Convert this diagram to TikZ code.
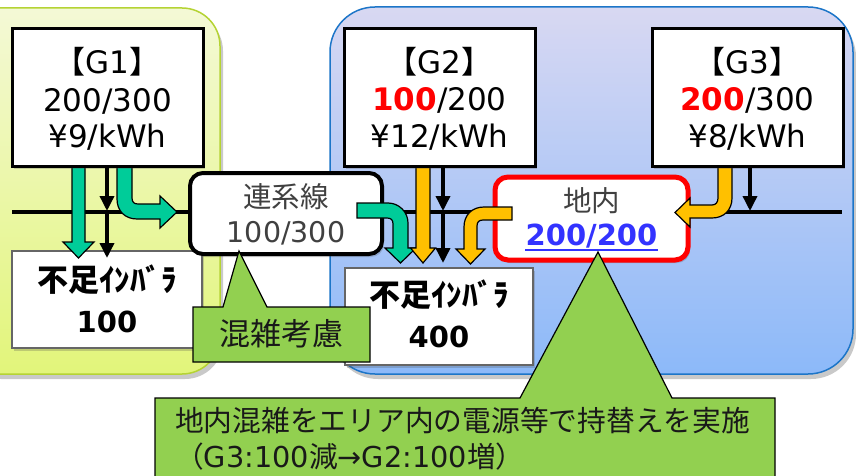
\documentclass[tikz,border=0pt]{standalone}
\usepackage{fontspec}
\setmainfont{DejaVu Sans}
\newfontfamily\cjk{Noto Sans CJK JP}
\usetikzlibrary{shadows,arrows.meta}
\definecolor{gA}{HTML}{00CC99}
\definecolor{oA}{HTML}{FFC000}
\definecolor{cg}{HTML}{92D050}
\definecolor{lgTop}{HTML}{F4F9D6}
\definecolor{lgBot}{HTML}{E2F57A}
\definecolor{lgBd}{HTML}{B5D334}
\definecolor{bTop}{HTML}{D8D8F2}
\definecolor{bBot}{HTML}{8CB9F9}
\definecolor{bBd}{HTML}{1C75C8}
\definecolor{dg}{HTML}{404040}
\definecolor{nb}{HTML}{3333FF}
\definecolor{rd}{HTML}{FF0000}
\begin{document}
\begin{tikzpicture}[x=1pt,y=-1pt,
  regshadow/.style={drop shadow={shadow xshift=3pt,shadow yshift=-5pt,opacity=0.3,fill=black!70}},
  boxshadow/.style={drop shadow={shadow xshift=2pt,shadow yshift=-3pt,opacity=0.25,fill=black!70}},
  gbox/.style={draw=black, line width=3pt, fill=white, inner sep=0pt,
    minimum width=191pt, minimum height=137pt, boxshadow},
  nbox/.style={draw=black!60, line width=1.5pt, fill=white, inner sep=0pt,
    minimum width=190pt, minimum height=97pt, boxshadow},
  rbox/.style={line width=4pt, fill=white, inner sep=0pt, rounded corners=13pt, boxshadow},
  tx/.style={inner sep=0pt, anchor=base},
  f31/.style={font=\fontsize{31}{36}\selectfont},
  f29/.style={font=\fontsize{29}{34}\selectfont},
  f28/.style={font=\fontsize{28.5}{34}\selectfont},
  blockG/.style={fill=gA, draw=black, line width=1.2pt, line join=miter},
  blockO/.style={fill=oA, draw=black, line width=1.2pt, line join=miter},
  blk/.style={line width=3.5pt, -{Triangle[width=14pt,length=15pt]}},
  callout/.style={fill=cg, draw=black, line width=1.2pt, line join=miter}
]
\useasboundingbox (0,0) rectangle (856,476);
\clip (0,0) rectangle (856,476);

% regions
\path[regshadow, top color=lgTop, bottom color=lgBot, draw=lgBd, line width=1.5pt,
  rounded corners=38pt] (-40,8) rectangle (220,374);
\path[regshadow, top color=bTop, bottom color=bBot, draw=bBd, line width=1.5pt,
  rounded corners=45pt] (330,7) rectangle (853,374);

% bus line
\coordinate (busL) at (12,212);
\coordinate (busR) at (842,212);
\draw[line width=4pt] (busL) -- (busR);

% shortage boxes
\node[nbox] (N1) at (107,299.5) {};
\node[nbox, minimum width=188pt] (N2) at (439,316.5) {};

% tie line and area boxes
\node[rbox, draw=black, minimum width=192pt, minimum height=81pt] (TL) at (286,213.5) {};
\node[rbox, draw=rd, line width=5pt, minimum width=193pt, minimum height=83pt] (AR) at (591.5,218.5) {};

% block arrows
\path[blockG] (72,166) -- (72,242) -- (63,242) -- (78.5,258) -- (94,242) -- (85,242) -- (85,166) -- cycle;
\path[blockG] (117,166) -- (117,199) .. controls (117,211) and (125,219) .. (137,219) -- (160,219)
  -- (160,228) -- (177,212) -- (160,196) -- (160,204) -- (138,204)
  .. controls (134,204) and (132,202) .. (132,198) -- (132,166) -- cycle;
\path[blockG] (357,203) -- (388,203) .. controls (399,203) and (408,212) .. (408,223) -- (408,248)
  -- (416,248) -- (400.5,263) -- (385,248) -- (393,248) -- (393,224)
  .. controls (393,220) and (391,218) .. (387,218) -- (357,218) -- cycle;
\path[blockO] (416,166) -- (416,248) -- (410.5,248) -- (423,263) -- (435.5,248) -- (430,248) -- (430,166) -- cycle;
\path[blockO] (512,207) -- (484,207) .. controls (472,207) and (464,215) .. (464,227) -- (464,249)
  -- (456,249) -- (470.5,264) -- (485,249) -- (477,249) -- (477,226)
  .. controls (477,222) and (479,220) .. (483,220) -- (512,220) -- cycle;
\path[blockO] (718,166) -- (718,198) .. controls (718,202) and (716,205) .. (712,205) -- (690,205)
  -- (690,198) -- (675,212.5) -- (690,227) -- (690,218) -- (712,218)
  .. controls (724,218) and (732,210) .. (732,198) -- (732,166) -- cycle;

% generator boxes
\node[gbox] (G1) at (107.5,97.5) {};
\node[gbox] (G2) at (439.5,97.5) {};
\node[gbox] (G3) at (747.5,97.5) {};

% black arrows
\coordinate (k1) at (107,211);
\coordinate (k1b) at (107,258);
\coordinate (k2) at (443,211);
\coordinate (k2b) at (443,263);
\coordinate (k3) at (750,211);
\draw[blk] (G1.south -| k1) -- (k1);
\draw[blk] (k1) -- (k1b);
\draw[blk] (G2.south -| k2) -- (k2);
\draw[blk] (k2) -- (k2b);
\draw[blk] (G3.south -| k3) -- (k3);

% generator texts
\node[tx,f31] (g1a) at (107.5,74) {{\cjk 【}G1{\cjk 】}};
\node[tx,f31] (g1b) at (107.5,112) {200/300};
\node[tx,f31] (g1c) at (107.5,147) {¥9/kWh};
\node[tx,f31] (g2a) at (439.5,74) {{\cjk 【}G2{\cjk 】}};
\node[tx,f31] (g2b) at (439.5,111) {{\color{rd}\bfseries 100}/200};
\node[tx,f31] (g2c) at (439.5,147) {¥12/kWh};
\node[tx,f31] (g3a) at (747.5,74) {{\cjk 【}G3{\cjk 】}};
\node[tx,f31] (g3b) at (747.5,111) {{\color{rd}\bfseries 200}/300};
\node[tx,f31] (g3c) at (747.5,147) {¥8/kWh};

% tie line / area texts
\node[tx,f28,text=dg] (tl1) at (286,207) {\cjk 連系線};
\node[tx,f28,text=dg] (tl2) at (286,242) {100/300};
\node[tx,f28,text=dg] (ar1) at (591.5,211) {\cjk 地内};
\node[tx,f29,text=nb] (ar2) at (591.5,245) {\bfseries 200/200};
\draw[nb, line width=2pt] ([yshift=-5pt]ar2.base west) -- ([yshift=-5pt]ar2.base east);

% shortage texts
\node[tx,f31] (n1a) at (107,291) {\cjk\bfseries 不足ｲﾝﾊﾞﾗ};
\node[tx,f29] (n1b) at (107,332) {\bfseries 100};
\node[tx,f31] (n2a) at (439,306) {\cjk\bfseries 不足ｲﾝﾊﾞﾗ};
\node[tx,f29] (n2b) at (439,347) {\bfseries 400};

% callouts
\path[callout] (193,307) -- (223,307) -- (239,251) -- (267,307) -- (370,307) -- (370,362) -- (193,362) -- cycle;
\node[tx,f31,text=black!90] (c1) at (281.5,345) {\cjk 混雑考慮};
\path[callout] (155,398) -- (520,398) -- (598,252) -- (672,398) -- (775,398) -- (775,484) -- (155,484) -- cycle;
\node[tx,anchor=base west,font=\fontsize{28.75}{34}\selectfont,text=black!90] (c2a) at (175,431)
  {\cjk 地内混雑をエリア内の電源等で持替えを実施};
\node[tx,anchor=base west,font=\fontsize{28.75}{34}\selectfont,text=black!90] (c2b) at (175,467)
  {{\cjk （}G3:100{\cjk 減}→G2:100{\cjk 増）}};
\end{tikzpicture}
\end{document}
